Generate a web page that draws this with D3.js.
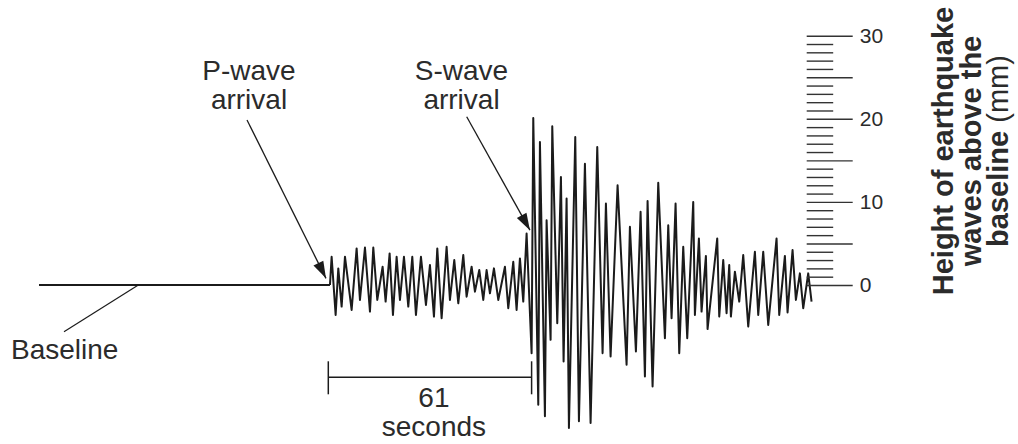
<!DOCTYPE html>
<html><head><meta charset="utf-8">
<script src="https://cdn.jsdelivr.net/npm/d3@7"></script>
<style>
html,body{margin:0;padding:0;background:#fff;}
svg{display:block;font-family:"Liberation Sans",Arial,Helvetica,sans-serif;}
</style></head><body>
<svg id="chart" width="1018" height="444"></svg>
<script>
// ---- data (time in seconds after P-wave arrival, height in mm) ----
const baselineTime = [-86.8, 0.5];
const traceTime = [0.5, 1.0, 2.2, 3.0, 4.0, 5.0, 7.0, 8.5, 9.5, 11.0, 12.5, 13.5, 14.7, 16.3, 17.2, 18.4, 19.4, 20.5, 21.5, 22.7, 24.0, 25.2, 26.3, 27.8, 29.3, 30.5, 31.7, 32.7, 34.0, 35.5, 36.5, 37.8, 39.0, 40.5, 41.5, 43.0, 44.0, 45.3, 46.5, 47.5, 48.5, 49.7, 51.0, 53.0, 54.0, 55.5, 56.5, 57.5, 58.5, 59.5,
  61.0, 61.5, 63.0, 63.5, 65.0, 65.5, 66.7, 67.2, 68.7, 69.8, 70.6, 71.5, 72.2, 74.1, 75.2, 77.0, 78.7, 80.7, 82.3, 83.3, 84.7, 86.8, 89.5, 90.5, 92.3, 93.7, 95.0, 95.8, 97.3, 99.0,
  101.0, 102.0, 103.0, 104.2, 105.3, 106.5, 107.7, 109.5, 110.0, 111.2, 112.0, 113.3, 113.8, 116.7, 117.3, 118.5, 119.5, 120.3, 120.8, 122.0, 123.3, 124.5, 126.0, 128.0, 129.0, 130.5, 132.0, 134.5, 135.3, 137.0, 137.8, 139.3, 140.3, 141.5, 142.5, 144.0, 145.0];
const traceHeight = [0, 3.4, -3.6, 2.0, -2.6, 3.4, -3.0, 4.4, -1.8, 4.5, -3.2, 4.5, -1.8, 2.2, -2.0, 3.8, -3.6, 3.4, -1.8, 3.4, -2.6, 3.4, -3.6, 3.4, -2.4, 2.4, -3.8, 4.4, -4.0, 4.6, -1.8, 3.0, -2.2, 3.6, -1.4, 2.2, -0.8, 1.8, -1.8, 1.8, -1.0, 2.0, -1.8, 2.2, -2.8, 2.8, -3.0, 3.2, -2.0, 6.2,
  -8.2, 20.1, -14.4, 17.2, -15.8, 7.8, -6.6, 19.1, -4.6, 13.0, -9.2, 10.4, -17.2, 17.8, -16.4, 14.6, -16.6, 16.6, -8.2, 9.8, -8.6, 12.0, -9.6, 7.0, -8.0, 8.8, -11.0, 10.1, -12.2, 12.3,
  -6.4, 7.2, -4.0, 9.8, -8.2, 4.6, -6.4, 10.0, -3.6, 5.6, -3.2, 3.5, -5.3, 5.6, -3.8, 3.0, -3.4, 2.4, -3.8, 1.6, -2.0, 3.6, -5.0, 4.0, -3.6, 4.0, -4.8, 5.6, -3.6, 3.5, -3.3, 4.2, -1.8, 1.4, -2.8, 1.4, -2.0];
const majorTicks = [0, 5, 10, 15, 20, 25, 30];
const minorTicks = [1, 2, 3, 4, 6, 7, 8, 9, 11, 12, 13, 14, 16, 17, 18, 19, 21, 22, 23, 24, 26, 27, 28, 29];
const tickLabels = [0, 10, 20, 30];
const intervalSeconds = [0, 61];
const pArrival = {t: -0.7, h: 0.8};
const sArrival = {t: 60.5, h: 6.6};
const baselinePointT = -57;

// ---- scales ----
const x = d3.scaleLinear().domain([0, 61]).range([328.3, 531.6]);
const y = d3.scaleLinear().domain([0, 30]).range([285, 35.7]);

const svg = d3.select("#chart");
const ink = "#1b1b1b", textCol = "#2b2b2b";

// baseline
svg.append("line")
  .attr("x1", x(baselineTime[0])).attr("x2", x(baselineTime[1]))
  .attr("y1", y(0)).attr("y2", y(0))
  .attr("stroke", ink).attr("stroke-width", 2);

// trace
const line = d3.line().x((d) => x(d[0])).y((d) => y(d[1]));
svg.append("path")
  .datum(traceTime.map((t, i) => [t, traceHeight[i]]))
  .attr("d", line)
  .attr("fill", "none").attr("stroke", ink).attr("stroke-width", 2)
  .attr("stroke-linejoin", "round");

// scale ruler
const axX = 806.7;
const major = d3.axisRight(y).tickValues(majorTicks).tickSize(46).tickPadding(7)
  .tickFormat((d) => tickLabels.includes(d) ? d : "");
const minor = d3.axisRight(y).tickValues(minorTicks).tickSize(26.5).tickFormat("");
[major, minor].forEach((ax) => {
  const g = svg.append("g").attr("transform", `translate(${axX},0)`).call(ax);
  g.select(".domain").remove();
  g.selectAll(".tick line").attr("stroke", "#333").attr("stroke-width", 1.4);
  g.selectAll(".tick text").attr("fill", textCol).attr("font-size", 21)
    .attr("font-family", '"Liberation Sans",Arial,sans-serif');
});

// arrows
function arrow(x1, y1, x2, y2) {
  svg.append("line").attr("x1", x1).attr("y1", y1).attr("x2", x2).attr("y2", y2)
    .attr("stroke", ink).attr("stroke-width", 1.3);
  const a = Math.atan2(y2 - y1, x2 - x1), L = 17, W = 5.5;
  const bx = x2 - L * Math.cos(a), by = y2 - L * Math.sin(a);
  const px = -Math.sin(a) * W, py = Math.cos(a) * W;
  svg.append("path")
    .attr("d", `M${x2},${y2}L${bx + px},${by + py}L${bx - px},${by - py}Z`)
    .attr("fill", ink);
}
arrow(247, 120, x(pArrival.t), y(pArrival.h));
arrow(466.7, 116.7, x(sArrival.t), y(sArrival.h));

// labels
function label(lines, cx, y0, anchor) {
  lines.forEach((s, i) => {
    svg.append("text").attr("x", cx).attr("y", y0 + i * 28.5)
      .attr("text-anchor", anchor || "middle").attr("font-size", 28)
      .attr("fill", textCol).text(s);
  });
}
label(["P-wave", "arrival"], 249, 80);
label(["S-wave", "arrival"], 461.5, 80);

// baseline leader + label
svg.append("line").attr("x1", x(baselinePointT)).attr("y1", y(0))
  .attr("x2", 64).attr("y2", 331.7).attr("stroke", ink).attr("stroke-width", 1.2);
label(["Baseline"], 11, 359, "start");

// 61 second bracket
const by0 = 377.3;
const bg = svg.append("g").attr("stroke", ink).attr("stroke-width", 1.5);
bg.append("line").attr("x1", x(intervalSeconds[0])).attr("x2", x(intervalSeconds[1])).attr("y1", by0).attr("y2", by0);
intervalSeconds.forEach((t) => {
  bg.append("line").attr("x1", x(t)).attr("x2", x(t)).attr("y1", by0 - 16).attr("y2", by0 + 17);
});
label(["61", "seconds"], (x(intervalSeconds[0]) + x(intervalSeconds[1])) / 2 + 4, 407);

// rotated axis title
const tg = svg.append("g").attr("transform", "translate(953,151) rotate(-90)")
  .attr("font-size", 29).attr("fill", textCol).attr("text-anchor", "middle");
tg.append("text").attr("x", 0).attr("y", 0).attr("font-weight", "bold").text("Height of earthquake");
tg.append("text").attr("x", 0).attr("y", 27.5).attr("font-weight", "bold").text("waves above the");
const t3 = tg.append("text").attr("x", 0).attr("y", 55);
t3.append("tspan").attr("font-weight", "bold").text("baseline");
t3.append("tspan").text(" (mm)");
</script>
</body></html>
